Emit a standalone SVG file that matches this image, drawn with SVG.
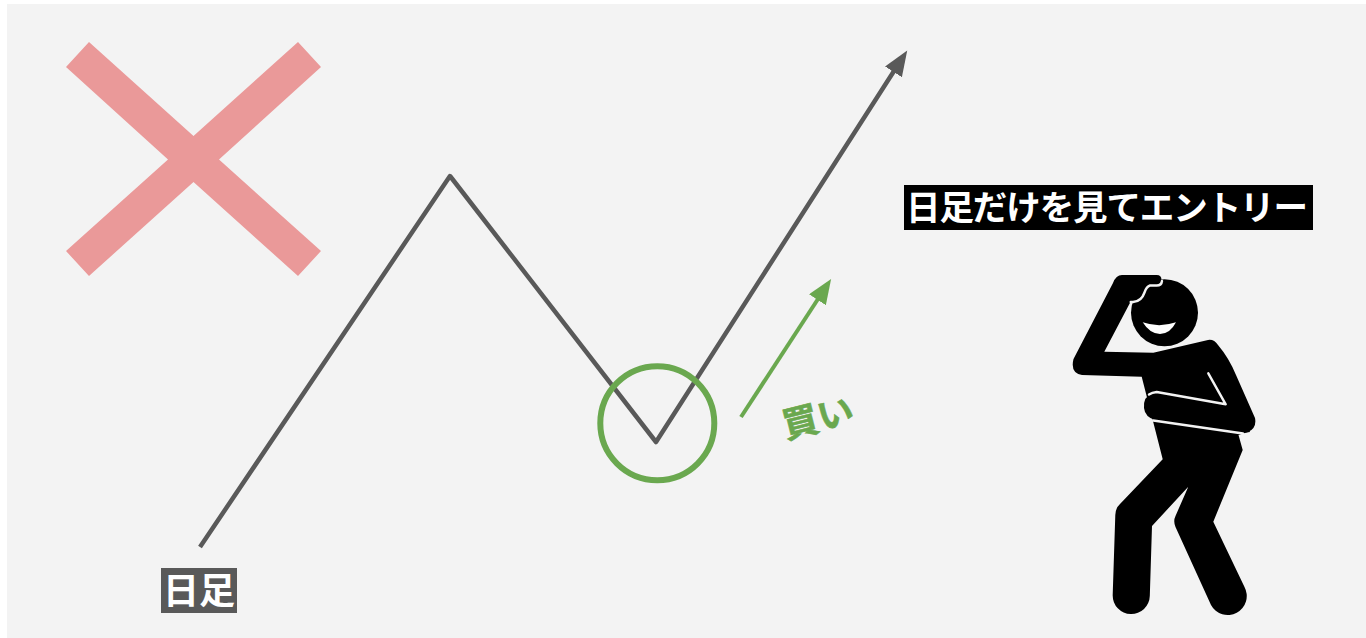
<svg xmlns="http://www.w3.org/2000/svg" width="1366" height="638" viewBox="0 0 1366 638">
<style>
text{font-family:"Noto Sans CJK JP","Noto Sans CJK SC",sans-serif;font-weight:700}
.w{fill:#fff}
.cut{fill:none;stroke:#f3f3f3;stroke-width:2.400;stroke-linecap:round;stroke-linejoin:round}
</style>
<defs>
<marker id="ag" markerUnits="userSpaceOnUse" markerWidth="28" markerHeight="22" refX="1" refY="10" orient="auto"><path d="M0 0L25.500 10L0 20Z" fill="#595959"/></marker>
<marker id="ab" markerUnits="userSpaceOnUse" markerWidth="28" markerHeight="22" refX="1" refY="10" orient="auto"><path d="M0 0L25 10L0 20Z" fill="#6aa84f"/></marker>
</defs>
<rect width="1366" height="638" fill="#fff"/>
<rect x="7" y="4" width="1359" height="634" fill="#f3f3f3"/>
<g id="cross"><polygon points="89,42 193.500,136 298,42 321,67 219,159.500 321,251 298,276 193.500,182 89,276 66,251 168,159.500 66,67" fill="#ea9999"/></g>
<g id="connectors" fill="none">
<path d="M200 547L450 176L656 442L894 71" stroke="#595959" stroke-width="4.500" stroke-linejoin="round" marker-end="url(#ag)"/>
<path d="M741 417L818 299" stroke="#6aa84f" stroke-width="4" marker-end="url(#ab)"/>
</g>
<g id="circle"><circle cx="657.300" cy="423.300" r="57" fill="none" stroke="#6aa84f" stroke-width="6"/></g>
<g id="label-daily"><rect x="161" y="568" width="76" height="45" fill="#595959"/><text x="199" y="604" font-size="36" text-anchor="middle" class="w">日足</text></g>
<g id="label-buy"><text transform="translate(786,439) rotate(-14)" font-size="36" fill="#6aa84f" stroke="#6aa84f" stroke-width="0.600">買い</text></g>
<g id="label-entry"><rect x="904" y="185" width="409" height="45" fill="#000"/><text x="906" y="220" font-size="34.500" textLength="402" lengthAdjust="spacing" class="w">日足だけを見てエントリー</text></g>
<g id="person">
<circle cx="1164.500" cy="312.700" r="33.500"/>
<path d="M1122 275H1156.700Q1161.500 275 1161.500 280Q1161.500 285 1156.700 285H1150Q1146 286 1144 292Q1141 301 1133 301.500L1130.700 301.500L1104.300 351.700L1153.300 352.700L1208 340Q1214 339 1218 345Q1229 358 1236 375L1255 418Q1257 428 1248 432L1238.500 435L1242.700 450L1213.300 521.700L1244.500 587A18.500 18.500 0 0 1 1211 605L1175.500 527Q1173 521 1175.500 516L1188.300 486.700L1152 526L1149.800 596A18.500 18.500 0 0 1 1112.700 595L1115.300 515Q1115.500 508 1120 504L1162.700 459.300L1141.700 376.700L1082 375Q1070 373 1073.500 359L1113 283Q1116 275 1122 275Z"/>
<path d="M1144 408Q1143 397 1152 393L1160 392L1240 405L1250 432L1243 433L1155 420Q1145 417 1144 408Z"/>
<path d="M1162 281Q1161.500 285.500 1156.700 285.500H1150Q1146.500 286.500 1144.500 292.500Q1141.500 301.500 1133 302L1130.700 302" class="cut"/>
<path d="M1208.300 373.300L1225.700 404.300L1156.700 392Q1152 392.500 1149 394.500" class="cut"/>
<path d="M1153.300 420.500L1243 433.500" class="cut"/>
<path d="M1142.700 322.300Q1159 328 1176 322.300Q1170 334 1160 334Q1150 334 1142.700 322.300Z" class="w"/>
</g>
</svg>
